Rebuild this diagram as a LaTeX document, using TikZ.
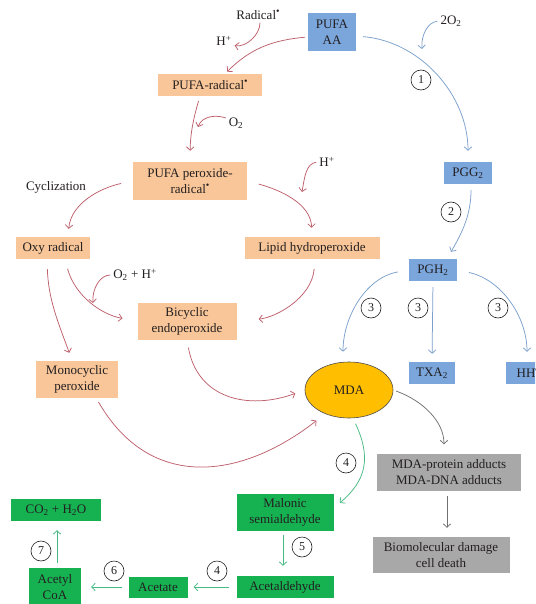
\documentclass[tikz,border=0pt]{standalone}
\usepackage{fontspec}
\setmainfont{Liberation Serif}
\usetikzlibrary{arrows.meta,shapes.geometric}
\definecolor{peach}{RGB}{248,198,152}
\definecolor{skyblue}{RGB}{122,166,220}
\definecolor{leaf}{RGB}{22,178,82}
\definecolor{ash}{RGB}{168,168,168}
\definecolor{amber}{RGB}{255,190,0}
\definecolor{redline}{RGB}{190,96,108}
\definecolor{blueline}{RGB}{125,160,205}
\definecolor{greenline}{RGB}{72,186,132}
\definecolor{grayline}{RGB}{112,112,112}
\definecolor{ink}{RGB}{35,31,32}
\newcommand{\rad}{\raisebox{0.75ex}{\fontsize{10}{10}\selectfont\textbullet}}
\begin{document}
\begin{tikzpicture}[x=1pt,y=1pt,
    every node/.style={font=\fontsize{13}{16}\selectfont, text=ink, align=center, inner sep=0pt},
    box/.style={minimum height=22pt},
    perox/.style={box, fill=peach},
    cox/.style={box, fill=skyblue},
    fate/.style={box, fill=ash},
    decay/.style={box, fill=leaf},
    num/.style={circle, draw=ink, line width=0.6pt, minimum size=20pt, font=\fontsize{12}{12}\selectfont},
    link/.style={line width=0.75pt, -{Straight Barb[length=3.5pt,width=7.5pt]}, shorten <=3pt, shorten >=3pt},
    rline/.style={link, draw=redline},
    bline/.style={link, draw=blueline},
    gline/.style={link, draw=greenline},
    kline/.style={link, draw=grayline}
]
\clip (0,0) rectangle (535,-604);
\fill[white] (0,0) rectangle (535,-604);

\node[cox, minimum width=48pt, minimum height=38pt] (aa) at (332,-32) {PUFA\\AA};
\node[perox, minimum width=104pt] (prad) at (210,-85) {PUFA-radical\rad};
\node[perox, minimum width=114pt, minimum height=38pt] (pper) at (190,-181) {PUFA peroxide-\\radical\rad};
\node[perox, minimum width=74pt] (oxy) at (53,-248) {Oxy radical};
\node[perox, minimum width=135pt] (lhp) at (312,-248) {Lipid hydroperoxide};
\node[perox, minimum width=99pt, minimum height=37pt] (bicy) at (187,-321) {Bicyclic\\endoperoxide};
\node[perox, minimum width=82pt, minimum height=37pt] (mono) at (77,-379) {Monocyclic\\peroxide};
\node[ellipse, draw=ink!80, line width=0.6pt, fill=amber, minimum width=88pt, minimum height=56pt] (mda) at (349,-390) {MDA};

\node[cox, minimum width=48pt] (pgg) at (468,-173) {PGG\textsubscript{2}};
\node[cox, minimum width=48pt] (pgh) at (433,-270) {PGH\textsubscript{2}};
\node[cox, minimum width=46pt] (txa) at (432,-373) {TXA\textsubscript{2}};
\node[cox, minimum width=48pt] (hht) at (530,-373) {HHT};

\node[fate, minimum width=144pt, minimum height=37pt] (adduct) at (449,-472) {MDA-protein adducts\\MDA-DNA adducts};
\node[fate, minimum width=137pt, minimum height=36pt] (damage) at (441,-555) {Biomolecular damage\\cell death};

\node[decay, minimum width=97pt, minimum height=37pt] (malon) at (285,-512) {Malonic\\semialdehyde};
\node[decay, minimum width=97pt] (acald) at (285,-587) {Acetaldehyde};
\node[decay, minimum width=59pt, minimum height=21pt] (acet) at (158,-587) {Acetate};
\node[decay, minimum width=52pt, minimum height=38pt] (acoa) at (55,-587) {Acetyl\\CoA};
\node[decay, minimum width=90pt] (co2) at (56,-510) {CO\textsubscript{2} + H\textsubscript{2}O};

\node (radical) at (258,-15) {Radical\rad};
\node (hpa) at (224,-41) {H\textsuperscript{+}};
\node (oa) at (236,-123) {O\textsubscript{2}};
\node (hpb) at (327,-162) {H\textsuperscript{+}};
\node (cycl) at (56,-187) {Cyclization};
\node (ohb) at (135,-275) {O\textsubscript{2} + H\textsuperscript{+}};
\node (oo) at (451,-21) {2O\textsubscript{2}};

\node[num] (n1) at (421,-80) {1};
\node[num] (n2) at (451,-212) {2};
\node[num] (n3a) at (371,-308) {3};
\node[num] (n3b) at (418,-308) {3};
\node[num] (n3c) at (498,-308) {3};
\node[num] (n4a) at (346,-463) {4};
\node[num] (n5) at (302,-547) {5};
\node[num] (n4b) at (217,-571) {4};
\node[num] (n6) at (114,-571) {6};
\node[num] (n7) at (41,-551) {7};

\coordinate (oaend) at (198,-127);
\coordinate (hpbend) at (302,-192);
\coordinate (ohbend) at (93,-303);
\coordinate (ooend) at (422,-49);

\draw[rline] ([yshift=-5pt]aa.west) to[out=185,in=45] ([xshift=15pt]prad.north);
\draw[rline] ([xshift=2pt]radical.south) to[out=-90,in=-10] ([yshift=-4pt]hpa.east);
\draw[rline, shorten <=5pt, shorten >=11pt] ([xshift=-10pt]prad.south) to[bend right=8] (pper.north);
\draw[rline, shorten >=0pt] ([yshift=4pt]oa.west) to[out=160,in=70] (oaend);
\draw[rline, shorten <=12pt, shorten >=8pt] (pper.west) to[out=192,in=85] ([xshift=15pt]oxy.north);
\draw[rline, shorten <=12pt, shorten >=9pt] (pper.east) to[out=-15,in=92] (lhp.north);
\draw[rline, shorten >=0pt] (hpb.west) to[out=185,in=80] (hpbend);
\draw[rline, shorten <=10pt, shorten >=15pt] ([xshift=12pt]oxy.south) to[out=-75,in=170] (bicy.west);
\draw[rline, shorten >=0pt] (ohb.west) to[out=180,in=95] (ohbend);
\draw[rline, shorten <=10pt, shorten >=8pt] ([xshift=-6pt]oxy.south) to[out=-88,in=110] ([xshift=-5pt]mono.north);
\draw[rline, shorten <=10pt, shorten >=22pt] ([xshift=3pt]lhp.south) to[out=-95,in=5] (bicy.east);
\draw[rline, shorten <=8pt, shorten >=10pt] (bicy.south) to[out=-80,in=200, looseness=1.2] (mda.west);
\draw[rline, shorten <=5pt, shorten >=11pt] ([xshift=19pt]mono.south) to[out=-60,in=218, looseness=1.2] (mda.225);

\draw[bline, shorten <=7pt, shorten >=11pt] ([yshift=-4pt]aa.east) to[out=-5,in=90] (pgg.north);
\draw[bline, shorten >=0pt] (oo.west) to[out=185,in=95] (ooend);
\draw[bline, shorten <=6pt, shorten >=8pt] ([xshift=3pt]pgg.south) to[out=-90,in=60] ([xshift=14pt]pgh.north);
\draw[bline, shorten <=11pt, shorten >=10pt] (pgh.west) to[out=190,in=90] ([xshift=-6pt]mda.north);
\draw[bline, shorten <=6pt, shorten >=8pt] (pgh.south) -- (txa.north);
\draw[bline, shorten <=12pt, shorten >=10pt] (pgh.east) to[out=-12,in=90] ([xshift=-3pt]hht.north);

\draw[kline, shorten <=3pt, shorten >=9pt] (mda.east) to[out=-20,in=90] ([xshift=-5pt]adduct.north);
\draw[kline, shorten <=5pt, shorten >=9pt] ([xshift=-2pt]adduct.south) -- ([xshift=6pt]damage.north);

\draw[gline, shorten <=6pt, shorten >=8pt] ([xshift=4pt]mda.south) to[out=-65,in=40, looseness=1.2] ([yshift=4pt]malon.east);
\draw[gline, shorten <=4pt, shorten >=10pt] ([xshift=-2pt]malon.south) -- ([xshift=-2pt]acald.north);
\draw[gline, shorten <=7pt, shorten >=6pt] (acald.west) -- (acet.east);
\draw[gline, shorten <=6pt, shorten >=10pt] (acet.west) -- (acoa.east);
\draw[gline, shorten <=5pt, shorten >=9pt] ([xshift=2pt]acoa.north) -- ([xshift=1pt]co2.south);
\end{tikzpicture}
\end{document}
